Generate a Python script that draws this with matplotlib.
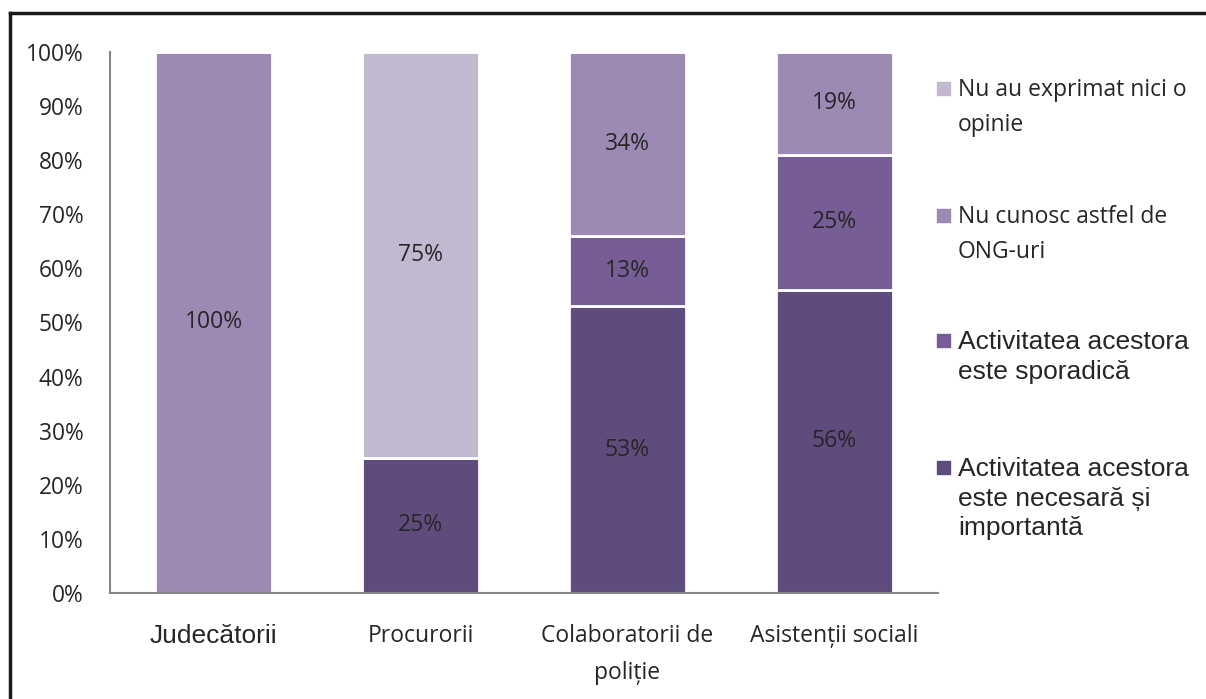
import matplotlib
matplotlib.use("Agg")
import matplotlib.pyplot as plt
from matplotlib.patches import Rectangle
from matplotlib.lines import Line2D

categories = ["Judecătorii", "Procurorii", "Colaboratorii de\npoliție", "Asistenții sociali"]
series_names = [
    "Activitatea acestora\neste necesară și\nimportantă",
    "Activitatea acestora\neste sporadică",
    "Nu cunosc astfel de\nONG-uri",
    "Nu au exprimat nici o\nopinie",
]
necesara = [0, 25, 53, 56]
sporadica = [0, 0, 13, 25]
nu_cunosc = [100, 0, 34, 19]
nu_au_opinie = [0, 75, 0, 0]
series = [necesara, sporadica, nu_cunosc, nu_au_opinie]
colors = ["#604C7C", "#775D95", "#9C8AB4", "#C2B9D1"]
yticks = [0, 10, 20, 30, 40, 50, 60, 70, 80, 90, 100]

fig = plt.figure(figsize=(12.06, 6.99), dpi=100)
ax = fig.add_axes([0.0912, 0.1517, 0.6866, 0.7739])

x = range(len(categories))
bottom = [0, 0, 0, 0]
for vals, col in zip(series, colors):
    ax.bar(x, vals, width=0.565, bottom=bottom, color=col,
           edgecolor="white", linewidth=2)
    for xi, v, b in zip(x, vals, bottom):
        if v > 0:
            ax.text(xi, b + v / 2, f"{v}%", ha="center", va="center",
                    fontsize=16.5, family="Open Sans", color="#262626")
    bottom = [b + v for b, v in zip(bottom, vals)]

ax.set_xlim(-0.5, 3.5)
ax.set_ylim(0, 100)
ax.set_yticks(yticks)
ax.set_yticklabels([f"{t}%" for t in yticks], family="Open Sans", fontsize=16.4, color="#262626")
ax.set_xticks(list(x))
ax.set_xticklabels(categories, family="Open Sans", fontsize=16.5, color="#262626", linespacing=1.75)
lbl = ax.get_xticklabels()[0]
lbl.set_family("Liberation Sans")
lbl.set_fontsize(19)
ax.tick_params(axis="y", length=0, pad=19)
ax.tick_params(axis="x", length=0, pad=22)
for s in ["top", "right"]:
    ax.spines[s].set_visible(False)
for s in ["left", "bottom"]:
    ax.spines[s].set_color("#868686")
    ax.spines[s].set_linewidth(1.5)

# legend drawn by hand, top entry first
W, H = 1206.0, 699.0
legend_y = [88, 215, 340, 467]
legend_fonts = [("Open Sans", 16.5), ("Open Sans", 16.5), ("Liberation Sans", 19), ("Liberation Sans", 19)]
legend_ls = [1.6, 1.6, 1.3, 1.3]
for i, idx in enumerate([3, 2, 1, 0]):
    yc = legend_y[i]
    fig.patches.append(Rectangle((937 / W, 1 - (yc + 6.5) / H), 13 / W, 13 / H,
                                 transform=fig.transFigure, color=colors[idx]))
    fam, fs = legend_fonts[i]
    fig.text(958 / W, 1 - (yc - 10) / H, series_names[idx], family=fam, fontsize=fs,
             color="#262626", va="top", ha="left", linespacing=legend_ls[i])

# outer frame (only top and left edges are inside the picture)
fig.add_artist(Line2D([10 / W, 1.01], [1 - 13 / H, 1 - 13 / H], transform=fig.transFigure,
                      color="#1a1a1a", linewidth=2.5))
fig.add_artist(Line2D([10 / W, 10 / W], [1 - 13 / H, -0.01], transform=fig.transFigure,
                      color="#1a1a1a", linewidth=2.5))

fig.savefig("out.png", dpi=100)
